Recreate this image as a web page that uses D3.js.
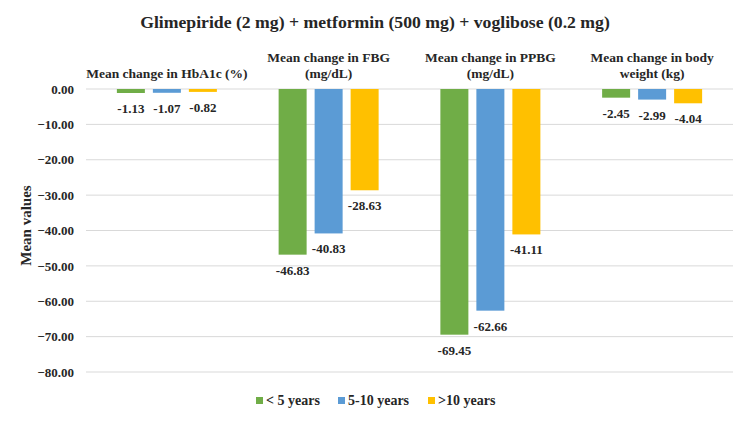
<!DOCTYPE html>
<html lang="en">
  <head>
    <meta charset="UTF-8" />
    <title>Glimepiride + metformin + voglibose</title>
    <script src="https://d3js.org/d3.v7.min.js"></script>
    <style>
      body { margin: 0; background: #fff; }
      text { font-family: "Liberation Serif", "Times New Roman", serif; font-weight: bold; fill: #262626; }
    </style>
  </head>
  <body>
    <div id="chart"></div>
    <script>
      const categories = [
        ["Mean change in HbA1c (%)"],
        ["Mean change in FBG", "(mg/dL)"],
        ["Mean change in PPBG", "(mg/dL)"],
        ["Mean change in body", "weight (kg)"],
      ];
      const seriesNames = ["< 5 years", "5-10 years", ">10 years"];
      const seriesColors = ["#70ad47", "#5b9bd5", "#ffc000"];
      const lessThan5 = [-1.13, -46.83, -69.45, -2.45];
      const from5to10 = [-1.07, -40.83, -62.66, -2.99];
      const moreThan10 = [-0.82, -28.63, -41.11, -4.04];
      const yTicks = [0, -10, -20, -30, -40, -50, -60, -70, -80];

      const seriesValues = [lessThan5, from5to10, moreThan10];
      const width = 750, height = 422;
      const margin = { top: 89, right: 17, bottom: 50, left: 86 };

      const svg = d3.select("#chart").append("svg")
        .attr("width", width).attr("height", height);

      svg.append("text")
        .attr("x", 375).attr("y", 28)
        .attr("text-anchor", "middle")
        .style("font-size", "17.7px")
        .text("Glimepiride (2 mg) + metformin (500 mg) + voglibose (0.2 mg)");

      const x0 = d3.scaleBand()
        .domain(d3.range(categories.length))
        .range([margin.left, width - margin.right]);
      const x1 = d3.scaleBand()
        .domain(d3.range(seriesNames.length))
        .range([-50, 50])
        .paddingInner(8 / 36);
      const y = d3.scaleLinear()
        .domain([0, -80])
        .range([margin.top, height - margin.bottom]);

      // gridlines
      svg.append("g")
        .selectAll("line")
        .data(yTicks)
        .join("line")
        .attr("x1", margin.left).attr("x2", width - margin.right)
        .attr("y1", d => y(d)).attr("y2", d => y(d))
        .attr("stroke", "#d9d9d9").attr("stroke-width", 1);

      const yAxis = svg.append("g")
        .attr("transform", `translate(${margin.left},0)`)
        .call(d3.axisLeft(y).tickValues(yTicks).tickSize(0).tickPadding(12).tickFormat(d3.format(".2f")));
      yAxis.select(".domain").remove();
      yAxis.selectAll("text")
        .style("font-size", "13px")
        .style("font-family", "'Liberation Serif', serif")
        .attr("fill", "#262626");

      svg.append("text")
        .attr("transform", `translate(26,${(y(0) + y(-80)) / 2 - 5}) rotate(-90)`)
        .attr("text-anchor", "middle")
        .attr("dy", "0.35em")
        .style("font-size", "15px")
        .text("Mean values");

      // category labels above groups
      categories.forEach((lines, i) => {
        const cx = x0(i) + x0.bandwidth() / 2;
        lines.forEach((line, j) => {
          svg.append("text")
            .attr("x", cx)
            .attr("y", 78 - (lines.length - 1 - j) * 16)
            .attr("text-anchor", "middle")
            .style("font-size", "13.5px")
            .text(line);
        });
      });

      // bars
      const rows = [];
      categories.forEach((c, i) => {
        seriesValues.forEach((vals, s) => rows.push({ cat: i, s, v: vals[i] }));
      });
      const cx = d => x0(d.cat) + x0.bandwidth() / 2 + x1(d.s);

      svg.append("g")
        .selectAll("rect")
        .data(rows)
        .join("rect")
        .attr("x", cx)
        .attr("y", y(0))
        .attr("width", x1.bandwidth())
        .attr("height", d => y(d.v) - y(0))
        .attr("fill", d => seriesColors[d.s]);

      svg.append("g")
        .selectAll("text")
        .data(rows)
        .join("text")
        .attr("x", d => cx(d) + x1.bandwidth() / 2)
        .attr("y", d => y(d.v) + 20)
        .attr("text-anchor", "middle")
        .style("font-size", "13px")
        .text(d => d.v.toFixed(2));

      // legend
      const legendX = [256, 338, 428];
      const legend = svg.append("g")
        .selectAll("g")
        .data(seriesNames)
        .join("g")
        .attr("transform", (d, i) => `translate(${legendX[i]},397)`);
      legend.append("rect")
        .attr("width", 7).attr("height", 7)
        .attr("fill", (d, i) => seriesColors[i]);
      legend.append("text")
        .attr("x", 10).attr("y", 8)
        .style("font-size", "14px")
        .text(d => d);
    </script>
  </body>
</html>
